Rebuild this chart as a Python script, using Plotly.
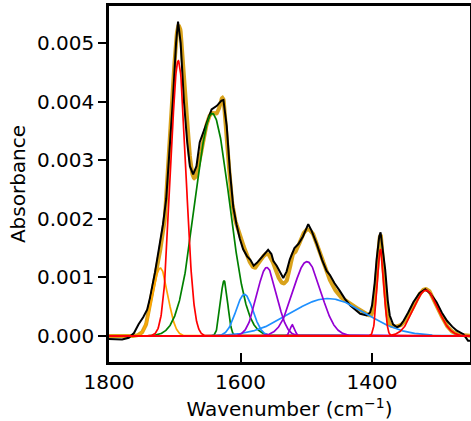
import numpy as np
import plotly.graph_objects as go

wn_data = [1800, 1790, 1780, 1770, 1762, 1755, 1748, 1742, 1738, 1730, 1722, 1718, 1713, 1708,
           1703, 1698, 1695, 1691, 1686, 1681, 1677, 1672, 1667, 1662, 1656, 1651, 1644, 1636,
           1629, 1626, 1621, 1616, 1611, 1606, 1601, 1596, 1590, 1585, 1580, 1575, 1570, 1565,
           1558, 1553, 1550, 1545, 1540, 1535, 1530, 1525, 1518, 1512, 1505, 1500, 1497, 1492,
           1484, 1476, 1469, 1464, 1457, 1449, 1441, 1433, 1425, 1418, 1408, 1403, 1400, 1396,
           1393, 1389, 1387, 1384, 1380, 1376, 1373, 1368, 1362, 1357, 1352, 1345, 1337, 1328,
           1319, 1311, 1302, 1294, 1286, 1278, 1271, 1261, 1254, 1250]
abs_data = [-0.00005, -0.00006, -0.00006, -0.00003, 0.00005, 0.0002, 0.00032, 0.00045, 0.00063,
            0.00109, 0.0016, 0.0019, 0.00234, 0.0031, 0.0040, 0.0050, 0.00537, 0.0050, 0.0040,
            0.0033, 0.0029, 0.00276, 0.0029, 0.00331, 0.0035, 0.00365, 0.00387, 0.00393, 0.00402,
            0.00403, 0.00359, 0.0028, 0.0022, 0.0019, 0.00166, 0.00148, 0.00136, 0.0013, 0.0012,
            0.00125, 0.00131, 0.00138, 0.00147, 0.0014, 0.00128, 0.0012, 0.0011, 0.00099, 0.0011,
            0.00131, 0.0015, 0.00157, 0.0017, 0.00185, 0.00191, 0.0018, 0.00157, 0.0013, 0.00111,
            0.00104, 0.0009, 0.00077, 0.00063, 0.00052, 0.00044, 0.00038, 0.00035, 0.0004, 0.00052,
            0.0009, 0.00131, 0.0017, 0.00177, 0.0015, 0.00114, 0.0006, 0.00035, 0.0002, 0.00015,
            0.00018, 0.00026, 0.0004, 0.00058, 0.00073, 0.0008, 0.00072, 0.00058, 0.0004, 0.00026,
            0.00016, 0.00009, 0.00003, -0.00008, -0.00008]

# Fitted Gaussian components: centre (cm-1), amplitude, sigma (cm-1), colour
peak_centres = [1722, 1643, 1625, 1594, 1560, 1521, 1499, 1467, 1694.6, 1387, 1318]
peak_heights = [0.00116, 0.0038, 0.00094, 0.00071, 0.00117, 0.00019, 0.00127, 0.00064,
                0.0047, 0.00148, 0.00078]
peak_sigmas = [11.5, 26, 5.5, 13, 15, 3.5, 21, 57, 11.5, 5, 18.3]
peak_colors = ["#FFA500", "#008000", "#008000", "#1E90FF", "#9400D3", "#9400D3", "#9400D3",
               "#1E90FF", "#FF0000", "#FF0000", "#FF0000"]

x_tick_vals = [1800, 1600, 1400]
y_tick_vals = [0.0, 0.001, 0.002, 0.003, 0.004, 0.005]
y_tick_text = ["0.000", "0.001", "0.002", "0.003", "0.004", "0.005"]

grid = np.arange(1250, 1800.5, 0.5)
components = [h * np.exp(-(grid - c) ** 2 / (2 * s ** 2))
              for c, h, s in zip(peak_centres, peak_heights, peak_sigmas)]
total_fit = np.sum(components, axis=0)

fig = go.Figure()
fig.add_trace(go.Scatter(x=grid, y=total_fit, mode="lines",
                         line=dict(color="#D9A21B", width=4), hoverinfo="skip"))
fig.add_trace(go.Scatter(x=wn_data, y=abs_data, mode="lines",
                         line=dict(color="black", width=2)))
order = [0, 1, 2, 3, 7, 4, 5, 6, 8, 9, 10]
for i in order:
    fig.add_trace(go.Scatter(x=grid, y=components[i], mode="lines",
                             line=dict(color=peak_colors[i], width=1.7)))

font = dict(family="DejaVu Sans", size=20, color="black")
fig.update_layout(
    width=471, height=421,
    margin=dict(l=109, r=1, t=6, b=59),
    paper_bgcolor="white", plot_bgcolor="white",
    showlegend=False,
    font=font,
    xaxis=dict(range=[1800, 1251], tickvals=x_tick_vals, ticks="inside", ticklen=9,
               tickwidth=2, tickcolor="black", showline=True, linewidth=2.5,
               linecolor="black", mirror=True, showgrid=False, zeroline=False,
               automargin=False,
               title=dict(text="Wavenumber (cm<sup>\u22121</sup>)", font=font, standoff=10),
               tickfont=font),
    yaxis=dict(range=[-0.000444, 0.005635], tickvals=y_tick_vals, ticktext=y_tick_text,
               ticks="outside", ticklen=8, tickwidth=2, tickcolor="black", showline=True,
               linewidth=2.5, linecolor="black", mirror=True, showgrid=False,
               zeroline=False, automargin=False,
               title=dict(text="Absorbance", font=font, standoff=6),
               tickfont=font),
)
fig.write_html("out.html", config={"displayModeBar": False},
               post_script="document.body.style.margin='0';document.body.style.padding='0';"
                           "document.body.style.overflow='hidden';")
